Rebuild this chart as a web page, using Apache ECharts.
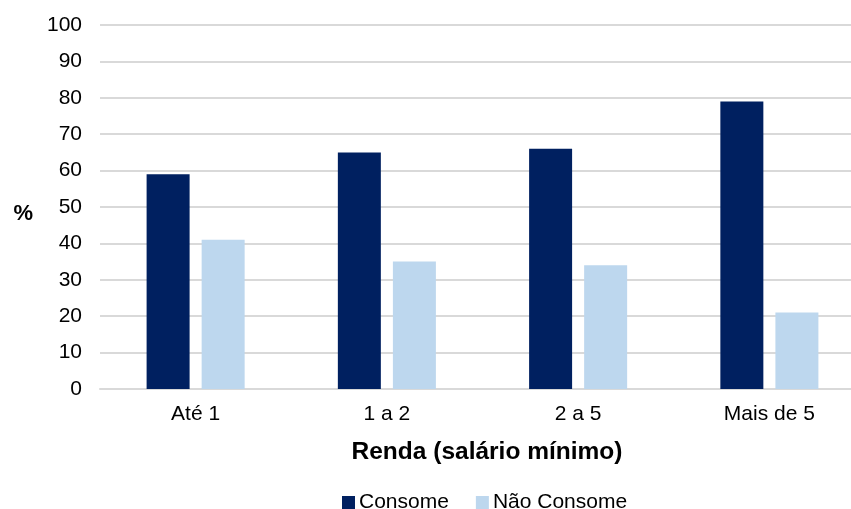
<!DOCTYPE html>
<html>
<head>
<meta charset="utf-8">
<script src="https://cdn.jsdelivr.net/npm/echarts@6/dist/echarts.min.js"></script>
<style>
  html, body { margin: 0; padding: 0; background: #ffffff; overflow: hidden; }
  /* canvas is a little wider than the window so the plot runs off the right edge */
  #chart { width: 865px; height: 509px; }
</style>
</head>
<body>
<div id="chart"></div>
<script>
// Income bands (minimum wages)
const categories = ['Até 1', '1 a 2', '2 a 5', 'Mais de 5'];
// Share of respondents (%) per income band
const consome = [59, 65, 66, 79];
const naoConsome = [41, 35, 34, 21];
const seriesNames = ['Consome', 'Não Consome'];
const yTicks = { min: 0, max: 100, interval: 10 };

const FONT = '"Liberation Sans", Arial, sans-serif';
const chart = echarts.init(document.getElementById('chart'), null, { renderer: 'canvas' });

chart.setOption({
  animation: false,
  textStyle: { fontFamily: FONT },
  grid: { left: 100, top: 25, right: 0, bottom: 120, containLabel: false },
  legend: {
    data: seriesNames,
    top: 487,
    left: 337,
    itemWidth: 13,
    itemHeight: 13,
    itemGap: 27,
    icon: 'rect',
    textStyle: { fontFamily: FONT, fontSize: 21, color: '#000', padding: [0, 0, 0, -1] }
  },
  xAxis: {
    type: 'category',
    data: categories,
    name: 'Renda (salário mínimo)',
    nameLocation: 'middle',
    nameGap: 51,
    nameTextStyle: { fontFamily: FONT, fontSize: 24.5, fontWeight: 'bold', color: '#000', padding: [0, 0, 0, 9] },
    axisLine: { lineStyle: { color: '#d9d9d9', width: 2 } },
    axisTick: { show: false },
    axisLabel: { fontFamily: FONT, fontSize: 21, color: '#000', margin: 15 }
  },
  yAxis: {
    type: 'value',
    min: yTicks.min,
    max: yTicks.max,
    interval: yTicks.interval,
    name: '%',
    nameLocation: 'middle',
    nameRotate: 0,
    nameGap: 67,
    nameTextStyle: { fontFamily: FONT, fontSize: 22, fontWeight: 'bold', color: '#000', verticalAlign: 'top', lineHeight: 14 },
    axisLine: { show: false },
    axisTick: { show: false },
    splitLine: { lineStyle: { color: '#d9d9d9', width: 2 } },
    axisLabel: { fontFamily: FONT, fontSize: 21, color: '#000', margin: 18 }
  },
  series: [
    {
      name: seriesNames[0],
      type: 'bar',
      data: consome,
      barWidth: 43,
      barGap: '28%',
      itemStyle: { color: '#002060' }
    },
    {
      name: seriesNames[1],
      type: 'bar',
      data: naoConsome,
      barWidth: 43,
      itemStyle: { color: '#bdd7ee' }
    }
  ]
});
</script>
</body>
</html>
